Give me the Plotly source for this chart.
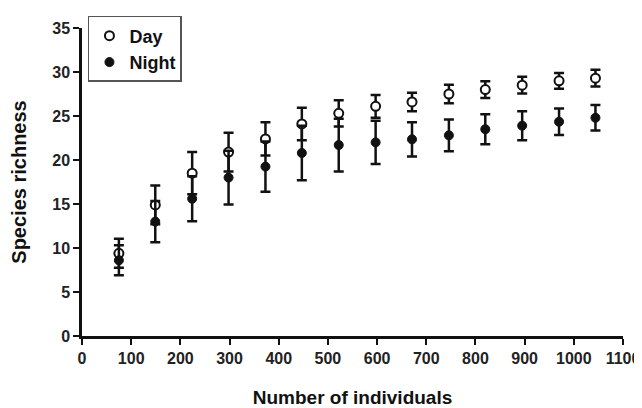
import plotly.graph_objects as go

# Data
individuals = [75, 149, 224, 298, 373, 447, 522, 597, 671, 746, 820, 895, 970, 1044]
day_richness = [9.4, 14.9, 18.5, 20.9, 22.4, 24.1, 25.3, 26.1, 26.6, 27.5, 28.0, 28.5, 29.0, 29.3]
day_error = [1.65, 2.2, 2.4, 2.2, 1.9, 1.85, 1.5, 1.3, 1.05, 1.05, 0.95, 0.95, 0.9, 0.95]
night_richness = [8.6, 13.0, 15.6, 18.0, 19.25, 20.8, 21.7, 22.0, 22.35, 22.8, 23.5, 23.9, 24.35, 24.8]
night_error = [1.7, 2.35, 2.55, 3.05, 2.85, 3.1, 3.0, 2.45, 1.95, 1.8, 1.7, 1.65, 1.5, 1.45]

x_ticks = list(range(0, 1101, 100))
y_ticks = list(range(0, 36, 5))

FONT = "Liberation Sans, Arial, sans-serif"
INK = "#111111"

fig = go.Figure()

fig.add_trace(go.Scatter(
    x=individuals, y=day_richness, name="Day", mode="markers",
    marker=dict(symbol="circle", size=9, color="white",
                line=dict(color=INK, width=2)),
    error_y=dict(type="data", array=day_error, visible=True,
                 color=INK, thickness=2.5, width=5),
))
fig.add_trace(go.Scatter(
    x=individuals, y=night_richness, name="Night", mode="markers",
    marker=dict(symbol="circle", size=9, color=INK,
                line=dict(color=INK, width=1)),
    error_y=dict(type="data", array=night_error, visible=True,
                 color=INK, thickness=2.5, width=5),
))

axis_common = dict(
    showline=True, linecolor=INK, linewidth=2.5,
    ticks="outside", ticklen=6, tickwidth=2, tickcolor=INK,
    showgrid=False, zeroline=False, mirror=False, automargin=False,
    tickfont=dict(family=FONT, size=16, color="#222222", weight="bold"),
)

fig.update_xaxes(
    range=[0, 1100], tickvals=x_ticks,
    title=dict(text="Number of individuals", standoff=25,
               font=dict(family=FONT, size=19, color=INK, weight="bold")),
    **axis_common,
)
fig.update_yaxes(
    range=[0, 35], tickvals=y_ticks,
    title=dict(text="Species richness", standoff=28,
               font=dict(family=FONT, size=20, color=INK, weight="bold")),
    **axis_common,
)

# The page body has an 8px default margin, so the figure is 8px smaller
fig.update_layout(
    width=634, height=400,
    margin=dict(l=74, r=19, t=8, b=72),
    paper_bgcolor="white", plot_bgcolor="white",
    showlegend=True,
    legend=dict(
        x=0.011, y=1.039, xanchor="left", yanchor="top",
        bordercolor="#555555", borderwidth=1.5, bgcolor="white",
        font=dict(family=FONT, size=18, color=INK, weight="bold"),
        itemwidth=30, tracegroupgap=0,
    ),
)

fig.write_html("out.html")
